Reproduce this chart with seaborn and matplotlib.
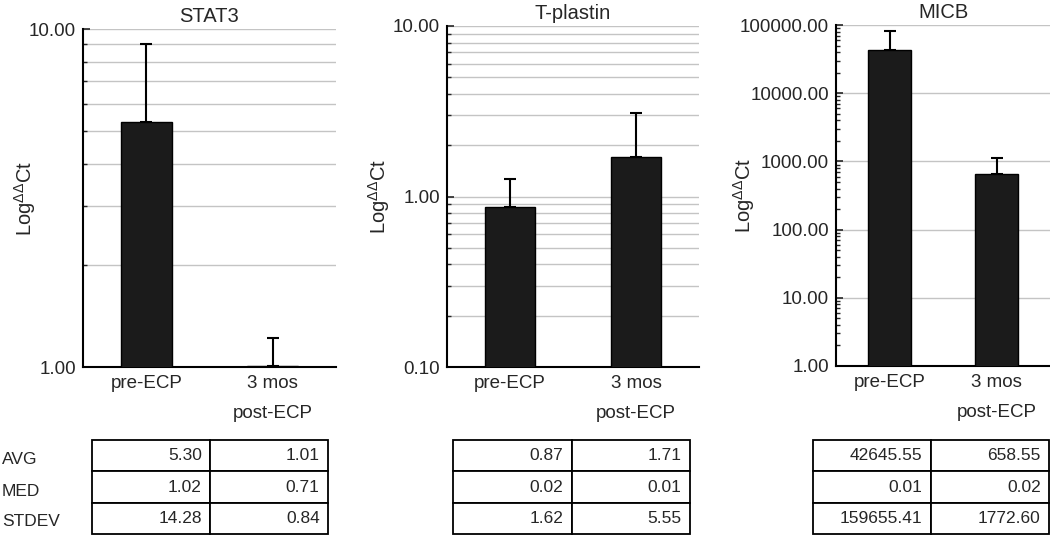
import matplotlib
matplotlib.use("Agg")
import matplotlib.pyplot as plt
import matplotlib.ticker as mticker
import numpy as np
import pandas as pd
import seaborn as sns

# data
groups = ["pre-ECP", "3 mos\npost-ECP"]
genes = ["STAT3", "T-plastin", "MICB"]
stat3_avg = [5.30, 1.01]
stat3_err = [3.7, 0.21]
tplastin_avg = [0.87, 1.71]
tplastin_err = [0.40, 1.37]
micb_avg = [42645.55, 658.55]
micb_err = [38400.0, 460.0]

row_names = ["AVG", "MED", "STDEV"]
stat3_table = [["5.30", "1.01"], ["1.02", "0.71"], ["14.28", "0.84"]]
tplastin_table = [["0.87", "1.71"], ["0.02", "0.01"], ["1.62", "5.55"]]
micb_table = [["42645.55", "658.55"], ["0.01", "0.02"], ["159655.41", "1772.60"]]

sns.set_theme(style="white")
plt.rcParams['font.family'] = ['Liberation Sans', 'DejaVu Sans']

W, H = 1050, 535
fig = plt.figure(figsize=(W / 100, H / 100), dpi=100)


def px_axes(left, right, top, bottom):
    return fig.add_axes([left / W, (H - bottom) / H, (right - left) / W, (bottom - top) / H])


panels = [
    dict(gene="STAT3", avg=stat3_avg, err=stat3_err, box=(83, 336, 29, 367),
         ylim=(1, 10), ticks=[1, 10], minor_grid=True, lab_x=-0.178, table=stat3_table,
         tbox=(92, 328)),
    dict(gene="T-plastin", avg=tplastin_avg, err=tplastin_err, box=(447, 699, 26, 367),
         ylim=(0.1, 10), ticks=[0.1, 1, 10], minor_grid=True, lab_x=-0.218, table=tplastin_table,
         tbox=(453, 690)),
    dict(gene="MICB", avg=micb_avg, err=micb_err, box=(836, 1050, 25, 366),
         ylim=(1, 100000), ticks=[1, 10, 100, 1000, 10000, 100000], minor_grid=False,
         lab_x=-0.369, table=micb_table, tbox=(813, 1049)),
]

for p in panels:
    ax = px_axes(*p["box"])
    df = pd.DataFrame({"group": groups, "value": p["avg"]})
    ax.set_yscale("log")
    sns.barplot(data=df, x="group", y="value", ax=ax, width=0.4, color="#1b1b1b",
                saturation=1, edgecolor="black", linewidth=1, errorbar=None, zorder=3)
    ax.errorbar(range(len(groups)), p["avg"], yerr=[[0, 0], p["err"]], fmt="none",
                ecolor="black", elinewidth=1.5, capsize=4, capthick=1.5, zorder=2)
    ax.set_ylim(*p["ylim"])
    ax.set_xlim(-0.5, 1.5)
    ax.set_yticks(p["ticks"])
    ax.yaxis.set_major_formatter(mticker.FuncFormatter(lambda v, pos: f"{v:.2f}"))
    ax.yaxis.set_minor_locator(mticker.LogLocator(base=10, subs=np.arange(2, 10)))
    ax.yaxis.set_minor_formatter(mticker.NullFormatter())
    ax.grid(True, which="major", axis="y", color="#c4c4c4", lw=1, zorder=0)
    if p["minor_grid"]:
        ax.grid(True, which="minor", axis="y", color="#c4c4c4", lw=1, zorder=0)
    ax.set_axisbelow(True)
    for s in ["top", "right"]:
        ax.spines[s].set_visible(False)
    for s in ["left", "bottom"]:
        ax.spines[s].set_color("black")
        ax.spines[s].set_linewidth(1.5)
    ax.tick_params(axis="y", which="major", direction="in", length=5, width=1.2,
                   labelsize=13.5, pad=5, left=True)
    ax.tick_params(axis="y", which="minor", direction="in", length=3, width=1.0, left=True)
    ax.tick_params(axis="x", length=0, labelsize=13.5, pad=6)
    for lbl in ax.get_xticklabels():
        lbl.set_linespacing(2.0)
    ax.set_xlabel("")
    ax.set_ylabel(r"Log$^{\mathregular{ΔΔ}}$Ct", fontsize=14.5)
    ax.yaxis.set_label_coords(p["lab_x"], 0.5)
    ax.set_title(p["gene"], fontsize=14.5, pad=5)

    # summary table under the panel
    tl, tr = p["tbox"]
    tax = px_axes(tl, tr, 440, 534)
    tax.axis("off")
    tbl = tax.table(cellText=p["table"], cellLoc="right", bbox=[0, 0, 1, 1])
    tbl.auto_set_font_size(False)
    for (r, c), cell in tbl.get_celld().items():
        cell.set_fontsize(12.5)
        cell.set_linewidth(1.3)
        cell.set_edgecolor("black")
        cell.PAD = 0.07

for i, name in enumerate(row_names):
    fig.text(2 / W, (H - (460 + i * 31)) / H, name, fontsize=12.5, va="center", ha="left")

fig.savefig("out.png", dpi=100)
